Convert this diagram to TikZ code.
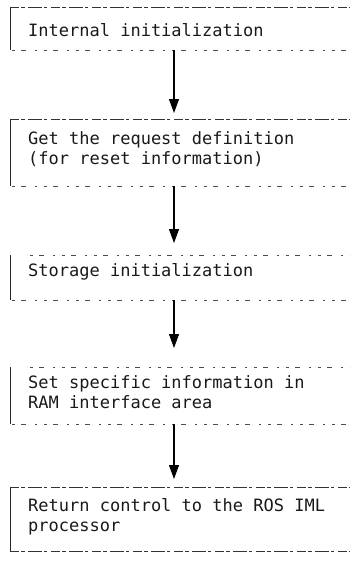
\documentclass[tikz,border=0pt]{standalone}
\usepackage{fontspec}
\setmonofont{DejaVu Sans Mono}
\usetikzlibrary{arrows.meta}
\begin{document}
\begin{tikzpicture}[x=1pt,y=-1pt,
  boxtext/.style={anchor=north west,inner sep=0pt,font=\ttfamily\fontsize{17}{20}\selectfont,align=left,text=black!90},
  topline/.style={line width=0.7pt,black!80,dash pattern=on 9pt off 2pt on 4pt off 3pt on 14pt off 2pt on 3pt off 4pt},
  botline/.style={line width=0.7pt,black!70,dash pattern=on 3pt off 6pt on 5pt off 9pt on 2pt off 7pt},
  leftline/.style={line width=0.8pt,black!85},
  flow/.style={line width=1.1pt,-{Triangle[length=14pt,width=10pt]}}]
\useasboundingbox (0,0) rectangle (356,568);
% box 1
\draw[leftline] (10,7) -- (10,50);
\draw[topline] (10,7) -- (350,7);
\draw[botline] (12,50) -- (350,50);
\node[boxtext] (b1) at (28,23) {Internal initialization};
\coordinate (b1s) at (174,50);
% box 2
\draw[leftline] (10,119) -- (10,186);
\draw[topline] (10,119) -- (350,119);
\draw[botline] (12,186) -- (350,186);
\node[boxtext] (b2) at (28,131) {Get the request definition\\(for reset information)};
\coordinate (b2n) at (174,119);
\coordinate (b2s) at (174,186);
% box 3
\draw[leftline] (10,255) -- (10,300);
\draw[botline] (30,255) -- (350,255);
\draw[botline] (12,300) -- (350,300);
\node[boxtext] (b3) at (28,263) {Storage initialization};
\coordinate (b3n) at (174,255);
\coordinate (b3s) at (174,300);
% box 4
\draw[leftline] (10,367) -- (10,424);
\draw[botline] (30,367) -- (350,367);
\draw[botline] (12,424) -- (350,424);
\node[boxtext] (b4) at (28,375) {Set specific information in\\RAM interface area};
\coordinate (b4n) at (174,367);
\coordinate (b4s) at (174,424);
% box 5
\draw[leftline] (10,487) -- (10,551);
\draw[topline] (10,487) -- (350,487);
\draw[topline] (10,551) -- (350,551);
\node[boxtext] (b5) at (28,498) {Return control to the ROS IML\\processor};
\coordinate (b5n) at (174,487);
% arrows
\draw[flow] (b1s) -- (174,113);
\draw[flow] (b2s) -- (174,243);
\draw[flow] (b3s) -- (174,348);
\draw[flow] (b4s) -- (174,479);
\end{tikzpicture}
\end{document}
